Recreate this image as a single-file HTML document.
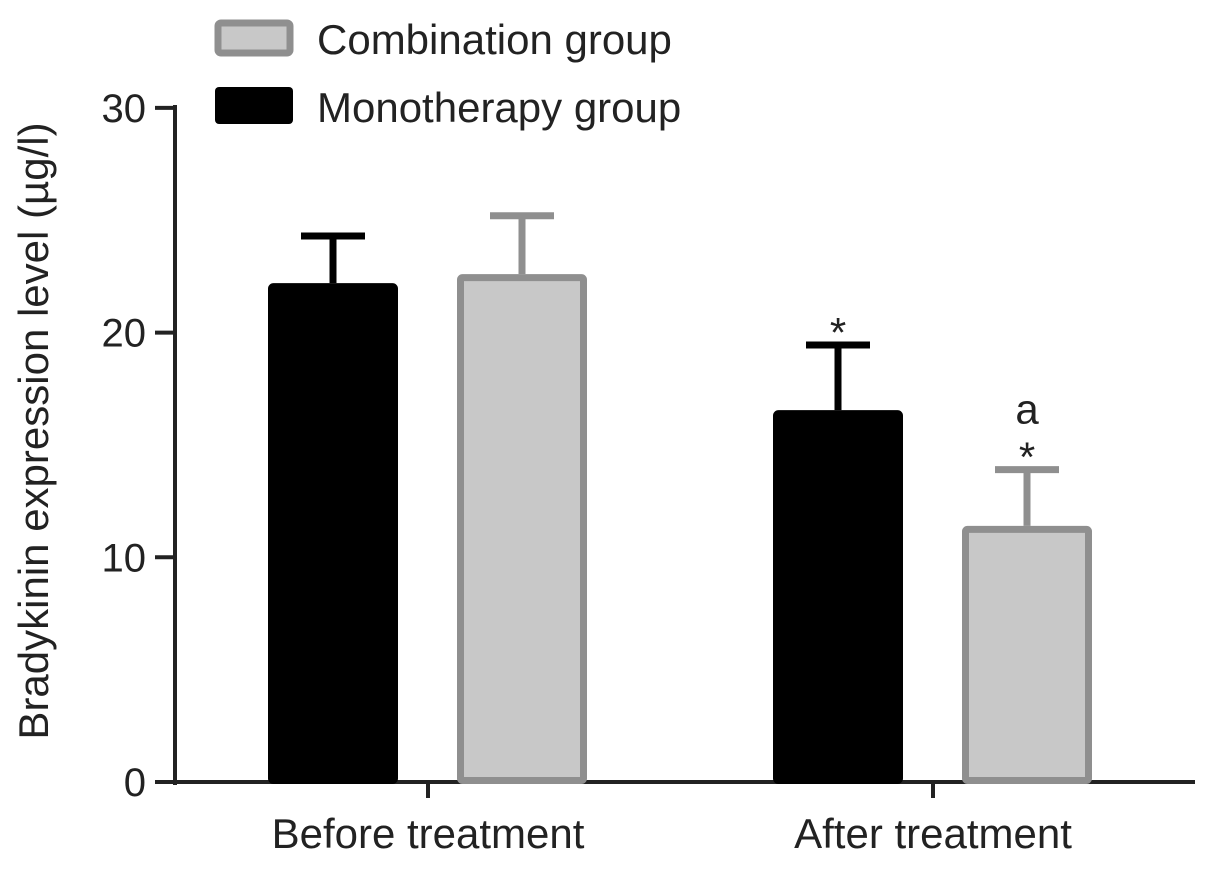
<!DOCTYPE html>
<html><head><meta charset="utf-8"><style>
body{margin:0;background:#fff}
svg text{font-family:"Liberation Sans",sans-serif;fill:#222}
</style></head><body>
<svg id="c" width="1205" height="864"></svg>
<script>
const categories=["Before treatment","After treatment"];
const monoValues=[22.2,16.55];
const monoErrors=[2.1,2.9];
const combValues=[22.6,11.4];
const combErrors=[2.6,2.5];
const yTicks=[0,10,20,30];
const monoMarks=["","*"];
const combMarks=["",["a","*"]];
const svg=document.getElementById('c');
const NS="http://www.w3.org/2000/svg";
function y(v){return 782-v*22.47;}
const catCenters=[428,933];
function mk(t,a,name,parent){const e=document.createElementNS(NS,t);for(const k in a)e.setAttribute(k,a[k]);


(parent||svg).appendChild(e);return e;}
mk('line',{x1:175,y1:105,x2:175,y2:785,stroke:'#222','stroke-width':4},'y-axis');
mk('line',{x1:173,y1:782,x2:1195,y2:782,stroke:'#222','stroke-width':4},'x-axis');
yTicks.forEach(t=>{
 mk('line',{x1:155,y1:y(t),x2:175,y2:y(t),stroke:'#222','stroke-width':4},'y-tick');
 const tx=mk('text',{x:146,y:y(t)+14,'font-size':40,'text-anchor':'end'},'y-tick-label');tx.textContent=t;
});
categories.forEach((c,i)=>{
 const cx=catCenters[i];
 mk('line',{x1:cx,y1:782,x2:cx,y2:798,stroke:'#222','stroke-width':4},'x-tick');
 const tx=mk('text',{x:cx,y:848,'font-size':42,'text-anchor':'middle'},'x-tick-label');tx.textContent=c;
 const bars=[[monoValues[i],monoErrors[i],cx-160,'#000','#000','mono'],[combValues[i],combErrors[i],cx+29,'#c8c8c8','#8f8f8f','comb']];
 bars.forEach(([v,e,x0,fill,stroke,nm])=>{
  const w=130;
  const top=y(v+e);
  mk('line',{x1:x0+w/2,y1:y(v),x2:x0+w/2,y2:top,stroke:stroke,'stroke-width':7},'error-bar-'+nm);
  mk('line',{x1:x0+w/2-32,y1:top,x2:x0+w/2+32,y2:top,stroke:stroke,'stroke-width':7},'error-cap-'+nm);
  mk('rect',{x:x0+3.5,y:y(v)+3.5,width:w-7,height:782-y(v)-5,fill:fill,stroke:stroke,'stroke-width':7,rx:2},'bar-'+nm+'-'+i);
 });
 if(monoMarks[i]){const t=mk('text',{x:cx-95,y:y(monoValues[i]+monoErrors[i])+2,'font-size':42,'text-anchor':'middle'},'significance-mark');t.textContent=monoMarks[i];}
 if(combMarks[i]){const top=y(combValues[i]+combErrors[i]);
  const a=mk('text',{x:cx+94,y:top-46,'font-size':42,'text-anchor':'middle'},'significance-letter');a.textContent=combMarks[i][0];
  const s=mk('text',{x:cx+94,y:top+2,'font-size':42,'text-anchor':'middle'},'significance-mark');s.textContent=combMarks[i][1];}
});
mk('rect',{x:218,y:23,width:72,height:30,fill:'#c8c8c8',stroke:'#8f8f8f','stroke-width':7,rx:3},'legend-swatch-combination');
let t=mk('text',{x:317,y:54,'font-size':42},'legend-label-combination');t.textContent='Combination group';
mk('rect',{x:215,y:87,width:78,height:37,fill:'#000',rx:4},'legend-swatch-monotherapy');
t=mk('text',{x:317,y:122,'font-size':42},'legend-label-monotherapy');t.textContent='Monotherapy group';
t=mk('text',{x:0,y:0,'font-size':42,'text-anchor':'middle',transform:'translate(48,431) rotate(-90)'},'y-axis-title');t.textContent='Bradykinin expression level (µg/l)';
</script>
</body></html>
